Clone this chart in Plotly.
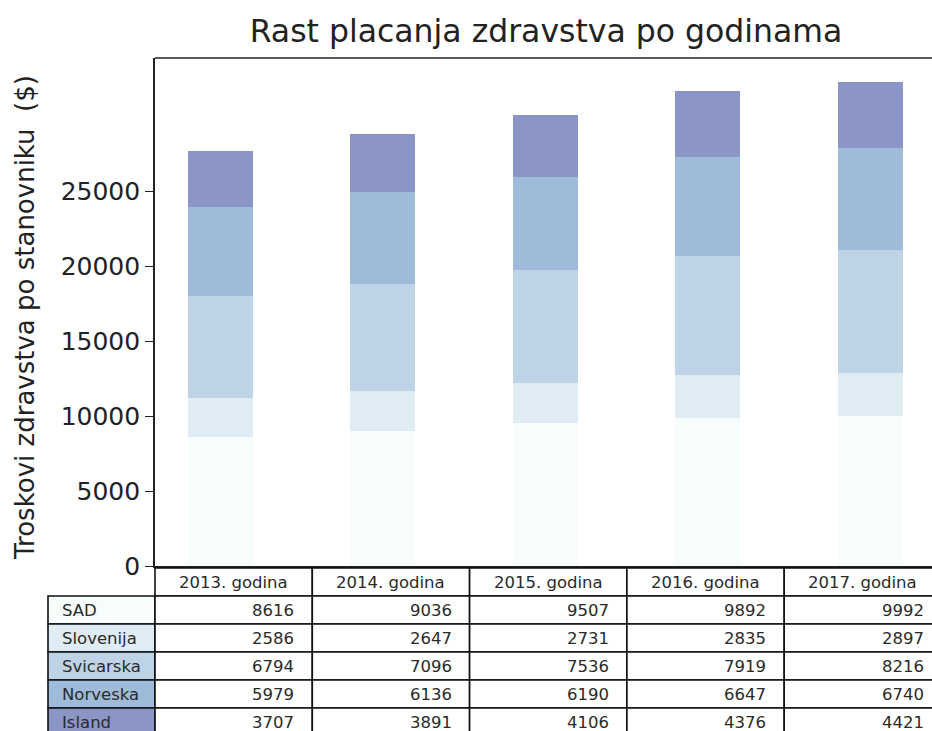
import plotly.graph_objects as go

# ---- data ----
years = ["2013. godina", "2014. godina", "2015. godina", "2016. godina", "2017. godina"]
countries = ["SAD", "Slovenija", "Svicarska", "Norveska", "Island"]
sad = [8616, 9036, 9507, 9892, 9992]
slovenija = [2586, 2647, 2731, 2835, 2897]
svicarska = [6794, 7096, 7536, 7919, 8216]
norveska = [5979, 6136, 6190, 6647, 6740]
island = [3707, 3891, 4106, 4376, 4421]
series = [sad, slovenija, svicarska, norveska, island]
colors = ["#f7fcfd", "#e0ecf4", "#bfd3e6", "#9ebcda", "#8c96c6"]
yticks = [0, 5000, 10000, 15000, 20000, 25000]

W, H = 932, 731
ml, mr, mt, mb = 155, 0, 58, 165
pw, ph = W - ml - mr, H - mt - mb

xpos = [i + 0.3 for i in range(len(years))]
bar_w = 0.4
xmin = -0.103
px_per_unit = 162.4
xmax = xmin + pw / px_per_unit
col_w = 0.9686
totals = [sum(s[i] for s in series) for i in range(len(years))]
ymax = max(totals) * 1.05

fig = go.Figure()
for name, vals, c in zip(countries, series, colors):
    fig.add_trace(go.Bar(x=xpos, y=vals, name=name, width=bar_w,
                         marker=dict(color=c, line=dict(width=0))))

FONT = "DejaVu Sans"
fig.update_layout(
    width=W, height=H, barmode="stack", showlegend=False,
    margin=dict(l=ml, r=mr, t=mt, b=mb),
    plot_bgcolor="white", paper_bgcolor="white",
    font=dict(family=FONT, color="#111"),
    title=dict(text="Rast placanja zdravstva po godinama", x=(546 - ml) / pw, xref="paper",
               xanchor="center", y=1 - 31 / H, yanchor="middle",
               font=dict(size=31.5, color="#222", family=FONT)),
    xaxis=dict(range=[xmin, xmax], showticklabels=False, ticks="", showgrid=False,
               zeroline=False, showline=True, linecolor="#222", linewidth=1.6),
    yaxis=dict(range=[0, ymax], tickvals=yticks, ticktext=[str(v) for v in yticks],
               ticks="outside", ticklen=8, tickwidth=1.4, tickcolor="#222",
               tickfont=dict(size=25, color="#222"), showgrid=False, zeroline=False,
               showline=True, linecolor="#222", linewidth=1.6),
)

# top spine (right spine lies outside the visible area)
fig.add_shape(type="line", xref="paper", yref="paper", x0=0, x1=1, y0=1, y1=1,
              line=dict(color="#222", width=1.6))

# y-axis title
fig.add_annotation(text="Troskovi zdravstva po stanovniku  ($)", xref="paper", yref="paper",
                   x=(25 - ml) / pw, y=(H - mb - 318) / ph, textangle=-90, showarrow=False,
                   xanchor="center", yanchor="middle", font=dict(size=26, color="#222"))

# ---- table ----
def xp(xd):
    return (xd - xmin) / (xmax - xmin)

def yp(py):
    return (H - mb - py) / ph

label_left_px = 48
label_left = (label_left_px - ml) / pw
header_top, header_bot = 568, 596
row_h = 28
line = dict(color="#111", width=1.6)
tfont = dict(size=16.5, color="#2a2a2a", family=FONT)

for i, yr in enumerate(years):
    x0, x1 = xp(xmin + i * col_w), xp(xmin + (i + 1) * col_w)
    fig.add_shape(type="rect", xref="paper", yref="paper", x0=x0, x1=x1,
                  y0=yp(header_bot), y1=yp(header_top), line=line, fillcolor="white")
    fig.add_annotation(text=yr, xref="paper", yref="paper", x=(x0 + x1) / 2,
                       y=yp((header_top + header_bot) / 2), showarrow=False,
                       xanchor="center", yanchor="middle", font=tfont)

for r, (name, vals, c) in enumerate(zip(countries, series, colors)):
    top = header_bot + r * row_h
    bot = top + row_h
    fig.add_shape(type="rect", xref="paper", yref="paper", x0=label_left, x1=0,
                  y0=yp(bot), y1=yp(top), line=line, fillcolor=c)
    fig.add_annotation(text=name, xref="paper", yref="paper", x=label_left + 12 / pw,
                       y=yp((top + bot) / 2), showarrow=False, xanchor="left",
                       yanchor="middle", font=tfont)
    for i, v in enumerate(vals):
        x0, x1 = xp(xmin + i * col_w), xp(xmin + (i + 1) * col_w)
        fig.add_shape(type="rect", xref="paper", yref="paper", x0=x0, x1=x1,
                      y0=yp(bot), y1=yp(top), line=line, fillcolor="white")
        fig.add_annotation(text=str(v), xref="paper", yref="paper", x=x1 - 16 / pw,
                           y=yp((top + bot) / 2), showarrow=False, xanchor="right",
                           yanchor="middle", font=tfont)

fig.write_html("out.html", config={"displayModeBar": False},
               post_script="document.body.style.margin='0';document.body.style.overflow='hidden';")
